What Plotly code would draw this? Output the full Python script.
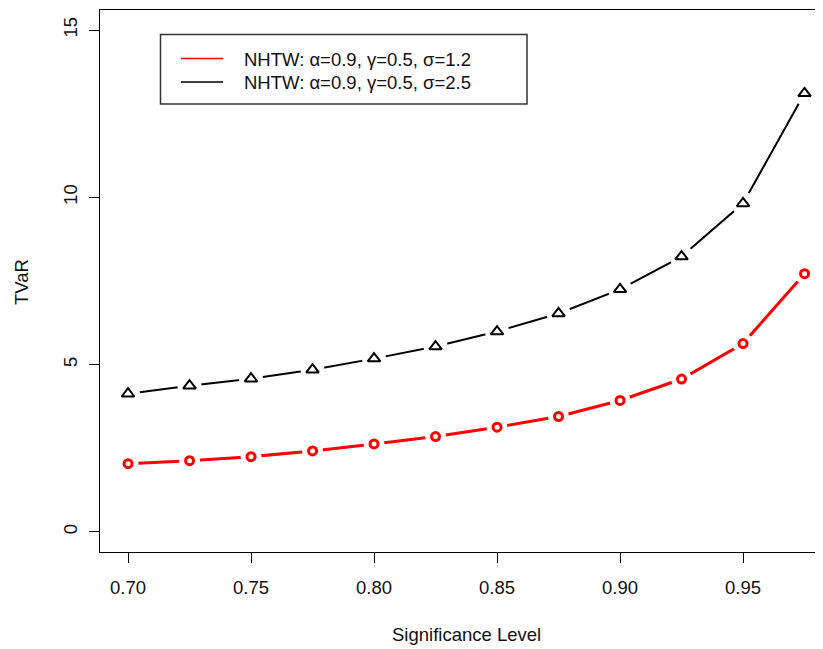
import plotly.graph_objects as go

sig_level = [0.700, 0.725, 0.750, 0.775, 0.800, 0.825, 0.850, 0.875, 0.900, 0.925, 0.950, 0.975]
tvar_sigma_1_2 = [2.04, 2.13, 2.25, 2.42, 2.63, 2.85, 3.13, 3.45, 3.93, 4.57, 5.63, 7.72]
tvar_sigma_2_5 = [4.13, 4.37, 4.58, 4.85, 5.18, 5.54, 5.99, 6.53, 7.25, 8.23, 9.82, 13.11]
name_1 = "NHTW: α=0.9, γ=0.5, σ=1.2"
name_2 = "NHTW: α=0.9, γ=0.5, σ=2.5"
x_ticks = [0.70, 0.75, 0.80, 0.85, 0.90, 0.95]
x_tick_text = ["0.70", "0.75", "0.80", "0.85", "0.90", "0.95"]
y_ticks = [0, 5, 10, 15]

FONT = "Liberation Sans, Arial, sans-serif"
FS = 18.5
TXT = "#111111"
RED = "#ff0000"
GAP = "white"

# page has an 8px body margin; figure sized to fill the rest
OFF = 8
W, H = 823 - OFF, 649 - OFF
ml, mr, mt, mb = 100 - OFF, 0, 10 - OFF, H - (552 - OFF)
pw, ph = W - ml - mr, H - mt - mb


def px(xp):  # page x pixel -> paper
    return (xp - 100) / pw


def py(yp):  # page y pixel -> paper
    return (552 - yp) / ph


fig = go.Figure()
fig.add_trace(go.Scatter(x=sig_level, y=tvar_sigma_1_2, mode="lines", name=name_1, showlegend=False,
                         line=dict(color=RED, width=3)))
fig.add_trace(go.Scatter(x=sig_level, y=tvar_sigma_2_5, mode="lines", name=name_2, showlegend=False,
                         line=dict(color="black", width=2)))
# white gaps around points (R type="b" look)
fig.add_trace(go.Scatter(x=sig_level, y=tvar_sigma_1_2, mode="markers", showlegend=False,
                         marker=dict(symbol="circle", size=21, color=GAP, line=dict(width=0))))
fig.add_trace(go.Scatter(x=sig_level, y=tvar_sigma_2_5, mode="markers", showlegend=False,
                         marker=dict(symbol="circle", size=24, color=GAP, line=dict(width=0))))
fig.add_trace(go.Scatter(x=sig_level, y=tvar_sigma_1_2, mode="markers", showlegend=False,
                         marker=dict(symbol="circle-open", size=8, color=RED,
                                     line=dict(width=3, color=RED))))
fig.add_trace(go.Scatter(x=sig_level, y=tvar_sigma_2_5, mode="markers", showlegend=False,
                         marker=dict(symbol="triangle-up-open", size=11, color="black",
                                     line=dict(width=2, color="black"))))

# legend (R style box)
shapes = [
    dict(type="rect", xref="paper", yref="paper", x0=px(160.5), x1=px(527), y0=py(104), y1=py(34.5),
         line=dict(color="#333333", width=1.5), fillcolor="white", layer="above"),
    dict(type="line", xref="paper", yref="paper", x0=px(181), x1=px(223), y0=py(58.5), y1=py(58.5),
         line=dict(color=RED, width=1.5), layer="above"),
    dict(type="line", xref="paper", yref="paper", x0=px(181), x1=px(223), y0=py(82), y1=py(82),
         line=dict(color="black", width=1.5), layer="above"),
]
annotations = [
    dict(text=name_1, xref="paper", yref="paper", x=px(242), y=py(59.5), xanchor="left",
         yanchor="middle", showarrow=False, font=dict(family=FONT, size=FS, color=TXT)),
    dict(text=name_2, xref="paper", yref="paper", x=px(242), y=py(83), xanchor="left",
         yanchor="middle", showarrow=False, font=dict(family=FONT, size=FS, color=TXT)),
    dict(text="Significance Level", xref="paper", yref="paper", x=px(466), y=py(634),
         xanchor="center", yanchor="middle", showarrow=False,
         font=dict(family=FONT, size=FS, color=TXT)),
    dict(text="TVaR", xref="paper", yref="paper", textangle=-90, x=px(21), y=py(282),
         xanchor="center", yanchor="middle", showarrow=False,
         font=dict(family=FONT, size=FS, color=TXT)),
]

fig.update_layout(
    width=W, height=H,
    margin=dict(l=ml, r=mr, t=mt, b=mb, pad=0),
    paper_bgcolor="white", plot_bgcolor="white",
    font=dict(family=FONT, size=FS, color=TXT),
    showlegend=False,
    xaxis=dict(range=[0.6886, 0.6886 + pw / 2460.0], tickvals=x_ticks, ticktext=x_tick_text,
               showgrid=False, zeroline=False, showline=True, mirror=True, linecolor="black",
               linewidth=1, ticks="outside", ticklen=10, tickcolor="black", tickwidth=1,
               ticklabelstandoff=9,
               tickfont=dict(family=FONT, size=FS, color=TXT)),
    yaxis=dict(range=[-0.6, 15.6], tickvals=y_ticks, showgrid=False, zeroline=False,
               showline=True, mirror=False, linecolor="black", linewidth=1,
               ticks="outside", ticklen=10, tickcolor="black", tickwidth=1, tickangle=-90,
               ticklabelstandoff=5,
               tickfont=dict(family=FONT, size=FS, color=TXT)),
    shapes=shapes,
    annotations=annotations,
)

fig.write_html("out.html")
